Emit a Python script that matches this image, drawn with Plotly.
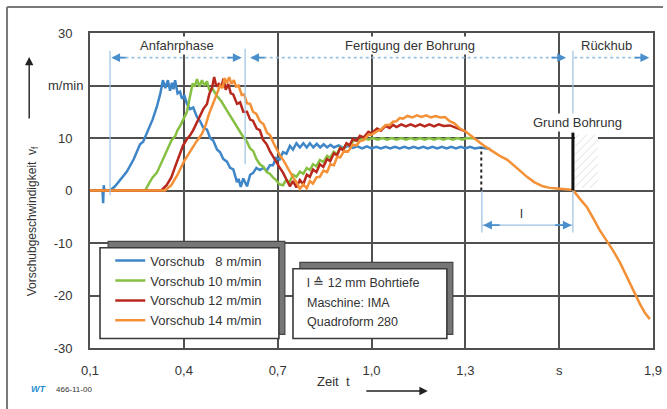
import plotly.graph_objects as go

# ---------------- data (t in s, v in m/min) ----------------
pts_8 = [(0.10, 0), (0.140, 0), (0.142, -2.4), (0.144, 1.0), (0.146, 0), (0.164, 0), (0.180, 0.8),
         (0.200, 2.2), (0.218, 3.6), (0.240, 6.0), (0.260, 8.8), (0.270, 9.3), (0.282, 11.0),
         (0.300, 13.5), (0.314, 16.0), (0.325, 18.5), (0.333, 21.0), (0.341, 19.5), (0.349, 21.0),
         (0.356, 19.0), (0.362, 20.5), (0.367, 19.3), (0.372, 21.0), (0.380, 18.5), (0.388, 18.8),
         (0.394, 17.5), (0.402, 18.0), (0.410, 16.5), (0.420, 15.5), (0.430, 15.8), (0.442, 14.0),
         (0.452, 13.2), (0.462, 12.0), (0.474, 11.6), (0.484, 10.0), (0.494, 9.5), (0.506, 7.8),
         (0.516, 7.3), (0.526, 6.0), (0.538, 5.5), (0.548, 4.3), (0.558, 4.0), (0.570, 1.6),
         (0.575, 2.2), (0.582, 0.7), (0.590, 2.3), (0.602, 0.8), (0.612, 3.0), (0.621, 3.3),
         (0.632, 4.3), (0.643, 3.9), (0.654, 4.3), (0.665, 3.8), (0.675, 4.8), (0.685, 4.8),
         (0.695, 6.2), (0.706, 5.9), (0.717, 7.3), (0.728, 7.0), (0.739, 8.5), (0.749, 7.8),
         (0.760, 9.0), (0.771, 8.2), (0.782, 9.0), (0.793, 8.2), (0.803, 9.0), (0.814, 8.2),
         (0.825, 8.9), (0.836, 8.2), (0.847, 8.8), (0.858, 8.2), (0.869, 8.7), (0.880, 8.2),
         (0.895, 8.6), (0.910, 8.1), (0.925, 8.5), (0.940, 8.1), (0.955, 8.4), (0.970, 8.0),
         (0.985, 8.4), (1.000, 8.0), (1.015, 8.3), (1.030, 8.0), (1.045, 8.3), (1.060, 8.0),
         (1.075, 8.3), (1.090, 8.0), (1.105, 8.3), (1.120, 8.0), (1.135, 8.3), (1.150, 8.0),
         (1.165, 8.3), (1.180, 8.0), (1.195, 8.3), (1.210, 8.0), (1.225, 8.3), (1.240, 8.0),
         (1.255, 8.3), (1.270, 8.0), (1.285, 8.3), (1.300, 8.0), (1.315, 8.3), (1.330, 8.0),
         (1.347, 8.2), (1.380, 7.9)]

pts_10 = [(0.10, 0), (0.276, 0), (0.290, 1.5), (0.300, 2.5), (0.314, 3.4), (0.330, 5.5),
          (0.349, 7.8), (0.360, 9.5), (0.372, 10.3), (0.380, 11.5), (0.390, 12.5), (0.402, 14.0),
          (0.410, 15.0), (0.420, 18.0), (0.428, 20.4), (0.435, 19.8), (0.442, 21.2), (0.450, 19.8),
          (0.458, 21.0), (0.466, 20.0), (0.474, 20.8), (0.482, 19.0), (0.490, 19.5), (0.506, 18.0),
          (0.520, 17.0), (0.535, 15.5), (0.550, 14.0), (0.565, 12.5), (0.580, 11.0), (0.590, 10.2),
          (0.600, 9.5), (0.612, 8.0), (0.622, 7.5), (0.632, 6.0), (0.643, 5.0), (0.655, 4.5),
          (0.665, 3.5), (0.675, 3.2), (0.685, 2.5), (0.695, 2.0), (0.705, 1.2), (0.717, 1.0),
          (0.727, 2.0), (0.737, 1.5), (0.749, 3.0), (0.760, 2.6), (0.771, 3.6), (0.782, 3.2),
          (0.793, 4.3), (0.803, 3.9), (0.813, 5.0), (0.824, 4.6), (0.835, 5.8), (0.846, 5.4),
          (0.858, 6.6), (0.868, 6.2), (0.879, 7.4), (0.890, 7.0), (0.900, 8.2), (0.910, 7.8),
          (0.920, 8.9), (0.930, 8.6), (0.945, 9.6), (0.960, 9.4), (0.975, 10.0), (0.990, 9.7),
          (1.005, 10.0), (1.020, 9.7), (1.035, 10.0), (1.050, 9.7), (1.065, 10.0), (1.080, 9.7),
          (1.095, 10.0), (1.110, 9.7), (1.125, 10.0), (1.140, 9.7), (1.155, 10.0), (1.170, 9.7),
          (1.185, 10.0), (1.200, 9.7), (1.215, 10.0), (1.230, 9.7), (1.245, 10.0), (1.260, 9.7),
          (1.275, 10.0), (1.290, 9.7), (1.305, 10.0), (1.330, 9.9)]

pts_12 = [(0.10, 0), (0.328, 0), (0.345, 1.0), (0.360, 2.5), (0.372, 4.5), (0.385, 6.5),
          (0.397, 8.5), (0.410, 9.8), (0.420, 10.5), (0.430, 11.5), (0.442, 13.0), (0.452, 14.0),
          (0.462, 15.5), (0.474, 16.5), (0.482, 18.5), (0.490, 19.5), (0.497, 21.6), (0.504, 19.8),
          (0.512, 20.3), (0.520, 19.8), (0.527, 21.3), (0.534, 19.2), (0.542, 20.3), (0.550, 18.5),
          (0.558, 18.3), (0.570, 16.5), (0.580, 16.8), (0.590, 15.0), (0.602, 15.0), (0.612, 13.5),
          (0.621, 13.3), (0.633, 11.8), (0.643, 11.5), (0.653, 9.7), (0.665, 8.8), (0.675, 7.5),
          (0.685, 6.4), (0.695, 5.5), (0.705, 4.5), (0.717, 3.4), (0.727, 2.3), (0.739, 0.8),
          (0.749, 1.8), (0.760, 0.6), (0.771, 2.0), (0.782, 1.2), (0.793, 3.0), (0.803, 2.6),
          (0.813, 4.0), (0.824, 3.5), (0.835, 5.0), (0.846, 4.5), (0.858, 6.0), (0.868, 5.6),
          (0.880, 7.1), (0.890, 6.7), (0.900, 8.1), (0.909, 7.7), (0.920, 9.0), (0.930, 8.6),
          (0.940, 9.8), (0.952, 9.5), (0.963, 10.4), (0.975, 10.1), (0.990, 11.2), (1.000, 10.9),
          (1.018, 11.8), (1.030, 11.4), (1.045, 12.3), (1.058, 11.9), (1.069, 12.5), (1.080, 12.1),
          (1.095, 12.6), (1.110, 12.2), (1.125, 12.6), (1.140, 12.2), (1.155, 12.6), (1.170, 12.2),
          (1.185, 12.6), (1.200, 12.2), (1.215, 12.6), (1.230, 12.3), (1.251, 12.4), (1.270, 11.9),
          (1.285, 11.6), (1.302, 11.2)]

pts_14 = [(0.10, 0), (0.340, 0), (0.360, 1.0), (0.380, 3.0), (0.400, 5.5), (0.420, 7.5),
          (0.440, 9.3), (0.458, 10.8), (0.470, 12.5), (0.480, 14.5), (0.490, 16.0), (0.500, 17.5),
          (0.510, 18.8), (0.516, 20.0), (0.524, 19.5), (0.530, 21.4), (0.538, 20.5), (0.545, 21.6),
          (0.552, 20.3), (0.560, 21.0), (0.567, 19.8), (0.575, 20.0), (0.585, 18.2), (0.593, 18.3),
          (0.602, 16.6), (0.612, 16.5), (0.621, 15.0), (0.632, 14.6), (0.643, 13.2), (0.655, 12.6),
          (0.666, 11.0), (0.676, 10.5), (0.687, 9.0), (0.698, 7.8), (0.708, 6.6), (0.719, 5.7),
          (0.730, 4.5), (0.740, 3.5), (0.750, 2.4), (0.760, 1.6), (0.771, 0.3), (0.782, 1.2),
          (0.793, 0.4), (0.803, 1.8), (0.813, 1.3), (0.824, 2.5), (0.835, 2.6), (0.846, 3.8),
          (0.858, 3.5), (0.868, 5.0), (0.880, 4.8), (0.890, 6.4), (0.900, 6.3), (0.913, 7.6),
          (0.925, 7.4), (0.940, 8.7), (0.952, 8.6), (0.963, 9.4), (0.975, 9.6), (0.990, 10.6),
          (1.000, 10.6), (1.018, 11.3), (1.030, 11.6), (1.045, 12.5), (1.058, 12.5), (1.069, 13.1),
          (1.080, 13.2), (1.090, 13.8), (1.101, 13.7), (1.115, 14.2), (1.130, 13.9), (1.145, 14.3),
          (1.160, 14.0), (1.175, 14.3), (1.190, 13.9), (1.205, 14.2), (1.220, 13.9), (1.235, 14.0),
          (1.250, 13.2), (1.265, 12.8), (1.283, 11.8), (1.302, 11.2)]

# common part: end of cut, bottom of hole, return stroke
pts_return = [(1.320, 10.3), (1.347, 9.1), (1.363, 8.4), (1.390, 7.3), (1.410, 6.6),
              (1.433, 5.9), (1.460, 4.6), (1.480, 3.5), (1.497, 2.6), (1.520, 1.6), (1.548, 0.8),
              (1.570, 0.5), (1.593, 0.4), (1.620, 0.3), (1.644, 0.1), (1.665, -1.5), (1.689, -3.2),
              (1.710, -5.4), (1.730, -7.6), (1.750, -9.4), (1.772, -11.4), (1.795, -13.8),
              (1.817, -16.6), (1.840, -19.3), (1.858, -21.6), (1.875, -23.4), (1.890, -24.5)]

series_names = ["Vorschub \u20078 m/min", "Vorschub 10 m/min", "Vorschub 12 m/min", "Vorschub 14 m/min"]
series_colors = ["#3f86c8", "#86c043", "#b8281c", "#f49036"]

x_tick_vals = [0.1, 0.4, 0.7, 1.0, 1.3, 1.6, 1.9]
x_tick_text = ["0,1", "0,4", "0,7", "1,0", "1,3", "s", "1,9"]
y_tick_vals = [-30, -20, -10, 0, 10, 20, 30]
y_tick_text = ["-30", "-20", "-10", "0", "10", "m/min", "30"]

info_lines = ["l \u2259 12 mm Bohrtiefe", "Maschine: IMA", "Quadroform 280"]

FONT = "Liberation Sans, Arial, Helvetica, sans-serif"
TXT = "#333333"
GRID = "#505050"
BLUE_L = "#9cc2e2"
BLUE_A = "#4a8fcc"

fig = go.Figure()

series_pts = [pts_8, pts_10, pts_12, pts_14]
for name, pts, col in zip(series_names, series_pts, series_colors):
    if pts is pts_14:
        pts = pts + pts_return
    t, v = zip(*pts)
    fig.add_trace(go.Scatter(x=list(t), y=list(v), mode="lines", name=name,
                             line=dict(color=col, width=2.5)))

pad = "\u2007\u00a0"
y_text = [s if s == "m/min" else s + pad for s in y_tick_text]

fig.update_layout(
    width=667, height=409,
    margin=dict(l=90, r=14, t=33, b=61, autoexpand=False),
    paper_bgcolor="white", plot_bgcolor="white",
    font=dict(family=FONT, color=TXT, size=13),
    showlegend=True,
    legend=dict(x=0.036, y=0.325, xanchor="left", yanchor="top",
                bgcolor="rgba(0,0,0,0)", font=dict(size=13, color=TXT),
                tracegroupgap=0, itemwidth=30),
    xaxis=dict(range=[0.1, 1.9], tickvals=x_tick_vals, ticktext=x_tick_text, automargin=False,
               showgrid=True, gridcolor=GRID, gridwidth=1.6, zeroline=False,
               showline=True, mirror=True, linecolor=GRID, linewidth=2,
               ticks="", ticklabelstandoff=9, tickfont=dict(size=13, color=TXT)),
    yaxis=dict(range=[-30, 30], tickvals=y_tick_vals, ticktext=y_text, automargin=False,
               showgrid=True, gridcolor=GRID, gridwidth=1.6, zeroline=True,
               zerolinecolor=GRID, zerolinewidth=1.6,
               showline=True, mirror=True, linecolor=GRID, linewidth=2,
               ticks="", ticklabelstandoff=2, tickfont=dict(size=13, color=TXT)),
)


def px2t(px):
    return 0.1 + (px - 90) / 312.8


def py2v(py):
    return (190.5 - py) / 5.2


shapes = []
# outer frame (top and left)
shapes.append(dict(type="line", xref="paper", yref="paper", x0=-0.1474, x1=1.0178, y0=1.0825, y1=1.0825,
                   line=dict(color="#7a7a7a", width=2)))
shapes.append(dict(type="line", xref="paper", yref="paper", x0=-0.1474, x1=-0.1474, y0=1.0825, y1=-0.25,
                   line=dict(color="#7a7a7a", width=2)))

# phase dotted lines
for x0, x1 in [(0.175, 0.575), (0.617, 1.615), (1.648, 1.88)]:
    shapes.append(dict(type="line", x0=x0, x1=x1, y0=25.3, y1=25.3, layer="above",
                       line=dict(color=BLUE_L, width=1.6, dash="dot")))
# thin vertical blue lines
for x0, y0, y1 in [(0.164, -0.9, 26.6), (0.596, 5.0, 27.0), (1.644, -8.0, 26.6), (1.353, -8.0, 0.0)]:
    shapes.append(dict(type="line", x0=x0, x1=x0, y0=y0, y1=y1, layer="above",
                       line=dict(color=BLUE_L, width=1.2)))
# dimension line l
shapes.append(dict(type="line", x0=1.353, x1=1.644, y0=-6.6, y1=-6.6, layer="above",
                   line=dict(color=BLUE_L, width=1.4)))
# black dotted end of feed
shapes.append(dict(type="line", x0=1.351, x1=1.351, y0=0, y1=8.2, layer="above",
                   line=dict(color="#222222", width=2, dash="dot")))
# hatch area at bottom of hole (white patch + "////" hatch)
hx0, hx1, hy0, hy1 = 575, 598, 135, 188
shapes.append(dict(type="rect", x0=px2t(hx0), x1=px2t(hx1), y0=py2v(hy1), y1=py2v(hy0), layer="between",
                   fillcolor="white", line=dict(width=0)))
for c in range(hx0 - (hy1 - hy0) + 4, hx1, 8):
    s0 = max(0, hx0 - c)
    s1 = min(hy1 - hy0, hx1 - c)
    if s1 > s0:
        shapes.append(dict(type="line", x0=px2t(c + s0), y0=py2v(hy1 - s0),
                           x1=px2t(c + s1), y1=py2v(hy1 - s1),
                           layer="between", line=dict(color="#e0e0e0", width=1)))
# bottom of hole line
shapes.append(dict(type="line", x0=1.644, x1=1.644, y0=0, y1=11, layer="above",
                   line=dict(color="#111111", width=3)))

# legend box with shadow
shapes.append(dict(type="rect", x0=0.158, x1=0.723, y0=-27.4, y1=-9.7, layer="above",
                   fillcolor="#767676", line=dict(color="#444444", width=1.2)))
shapes.append(dict(type="rect", x0=0.132, x1=0.704, y0=-28.2, y1=-10.9, layer="above",
                   fillcolor="white", line=dict(color="#3a3a3a", width=1.6)))
# info box with shadow
shapes.append(dict(type="rect", x0=0.771, x1=1.26, y0=-27.4, y1=-13.7, layer="above",
                   fillcolor="#767676", line=dict(color="#444444", width=1.2)))
shapes.append(dict(type="rect", x0=0.749, x1=1.241, y0=-28.2, y1=-14.9, layer="above",
                   fillcolor="white", line=dict(color="#3a3a3a", width=1.6)))

fig.update_layout(shapes=shapes)

ann = []
# phase labels
for txt, x in [("Anfahrphase", 0.378), ("Fertigung der Bohrung", 1.123), ("Rückhub", 1.752)]:
    ann.append(dict(x=x, y=27.6, text=txt, showarrow=False, bgcolor="white",
                    font=dict(size=13, color=TXT), borderpad=1))
# arrowheads of phase lines
for x, ax in [(0.168, 16), (0.585, -16), (0.612, 16), (1.622, -16), (1.888, -16)]:
    ann.append(dict(x=x, y=25.3, ax=ax, ay=0, text="", showarrow=True, arrowhead=2,
                    arrowsize=1.1, arrowwidth=1.6, arrowcolor=BLUE_A))
# dimension arrows
for x, ax in [(1.357, 18), (1.640, -18)]:
    ann.append(dict(x=x, y=-6.6, ax=ax, ay=0, text="", showarrow=True, arrowhead=2,
                    arrowsize=1.1, arrowwidth=1.6, arrowcolor=BLUE_A))
ann.append(dict(x=1.48, y=-4.4, text="l", showarrow=False, font=dict(size=13, color=TXT)))
ann.append(dict(x=1.66, y=13.0, text="Grund Bohrung", showarrow=False, bgcolor="white",
                font=dict(size=13, color=TXT), borderpad=1))
# info box text
for i, line in enumerate(info_lines):
    ann.append(dict(x=0.787, y=-17.6 - i * 3.75, text=line, showarrow=False, xanchor="left",
                    font=dict(size=12.5, color=TXT)))
# axis titles
ann.append(dict(xref="paper", yref="paper", x=-0.119, y=0.402, textangle=-90,
                text="Vorschubgeschwindigkeit  v<sub>f</sub>", showarrow=False,
                font=dict(size=12, color=TXT)))
ann.append(dict(xref="paper", yref="paper", x=-0.108, y=0.924, axref="pixel", ayref="pixel",
                ax=0, ay=63, text="", showarrow=True, arrowhead=2, arrowsize=1.2,
                arrowwidth=1.4, arrowcolor="#222222"))
ann.append(dict(xref="paper", yref="paper", x=0.433, y=-0.1365, text="Zeit  t",
                showarrow=False, font=dict(size=13, color=TXT)))
ann.append(dict(xref="paper", yref="paper", x=0.600, y=-0.1365, ax=-63, ay=0, text="",
                showarrow=True, arrowhead=2, arrowsize=1.2, arrowwidth=1.4, arrowcolor="#222222"))
# footer
ann.append(dict(xref="paper", yref="paper", x=-0.108, y=-0.152, text="<b><i>WT</i></b>",
                showarrow=False, font=dict(size=9, color="#1f8fd0")))
ann.append(dict(xref="paper", yref="paper", x=-0.064, y=-0.152, text="466-11-00", xanchor="left",
                showarrow=False, font=dict(size=8, color=TXT)))
fig.update_layout(annotations=ann)

fig.write_html("out.html", config={"displayModeBar": False},
               post_script="document.body.style.margin='0';document.body.style.overflow='hidden';")
